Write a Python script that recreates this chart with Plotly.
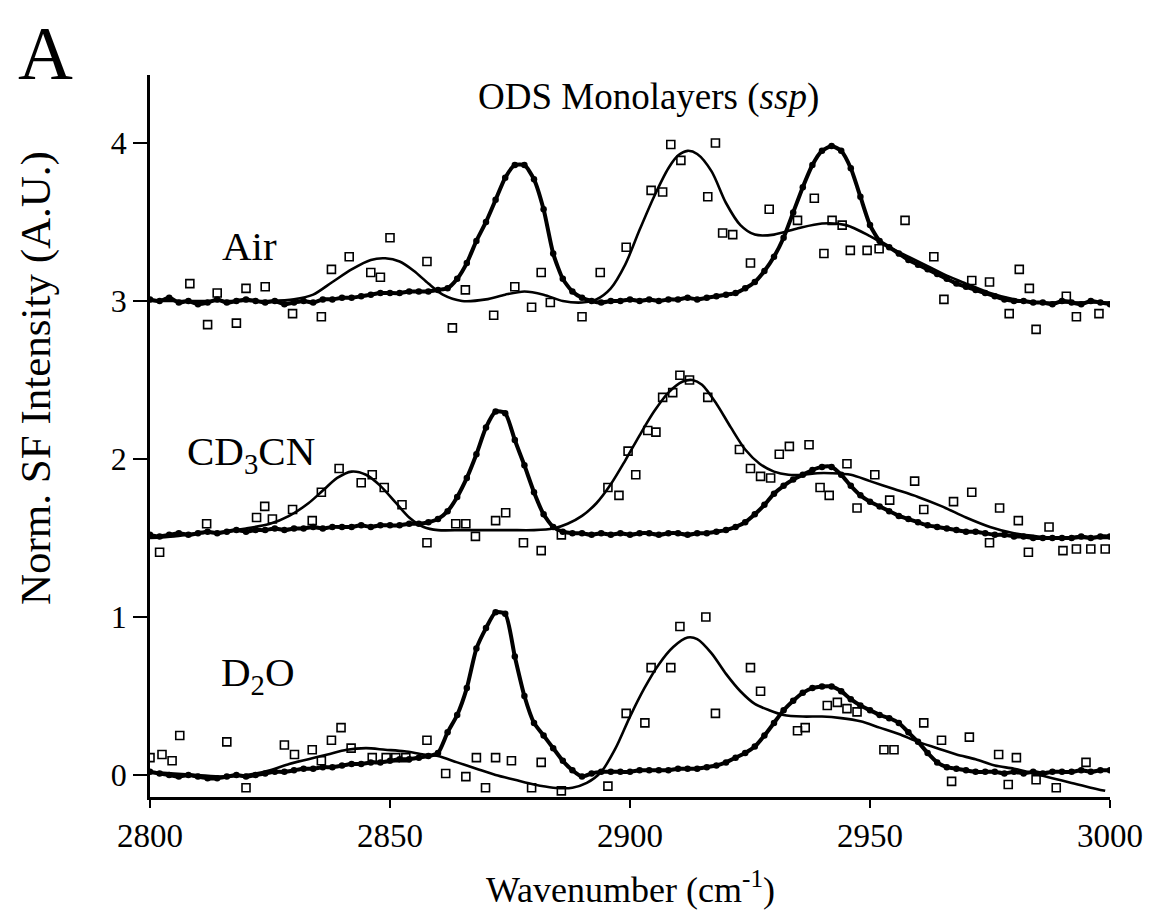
import plotly.graph_objects as go

# ---------------- data ----------------
# filled-circle spectra, sampled every 2 cm-1 from 2800 to 3000
circ_x = list(range(2800, 3001, 2))

air_circ = [3.01, 3.00, 3.02, 2.99, 3.00, 2.98, 2.99, 3.01, 2.99, 3.00,
            3.01, 3.00, 2.99, 3.00, 2.98, 2.99, 3.00, 2.99, 3.01, 3.01,
            3.02, 3.02, 3.03, 3.04, 3.05, 3.05, 3.05, 3.06, 3.06, 3.06,
            3.07, 3.08, 3.14, 3.24, 3.38, 3.50, 3.64, 3.78, 3.86, 3.86,
            3.77, 3.58, 3.30, 3.14, 3.06, 3.02, 3.00, 2.99, 3.00, 3.00,
            3.01, 3.00, 3.01, 3.00, 3.01, 3.01, 3.02, 3.01, 3.02, 3.03,
            3.04, 3.05, 3.08, 3.12, 3.19, 3.28, 3.40, 3.56, 3.72, 3.86,
            3.95, 3.98, 3.95, 3.84, 3.66, 3.48, 3.38, 3.34, 3.30, 3.26,
            3.23, 3.20, 3.17, 3.14, 3.11, 3.09, 3.07, 3.05, 3.03, 3.01,
            3.00, 3.00, 2.99, 2.99, 2.98, 3.00, 2.99, 2.98, 3.00, 2.99,
            2.98]

cd3cn_circ = [1.52, 1.51, 1.52, 1.53, 1.52, 1.53, 1.54, 1.53, 1.54, 1.55,
              1.54, 1.55, 1.55, 1.56, 1.55, 1.56, 1.56, 1.57, 1.56, 1.57,
              1.57, 1.57, 1.58, 1.57, 1.58, 1.58, 1.58, 1.59, 1.59, 1.60,
              1.62, 1.67, 1.76, 1.88, 2.03, 2.20, 2.30, 2.29, 2.12, 1.96,
              1.79, 1.65, 1.57, 1.54, 1.53, 1.53, 1.52, 1.53, 1.52, 1.53,
              1.52, 1.53, 1.53, 1.52, 1.53, 1.53, 1.52, 1.53, 1.53, 1.54,
              1.55, 1.57, 1.60, 1.65, 1.71, 1.78, 1.83, 1.87, 1.90, 1.93,
              1.95, 1.95, 1.90, 1.83, 1.77, 1.73, 1.70, 1.67, 1.64, 1.62,
              1.60, 1.58, 1.57, 1.56, 1.55, 1.54, 1.54, 1.53, 1.52, 1.52,
              1.51, 1.51, 1.50, 1.50, 1.50, 1.50, 1.50, 1.51, 1.50, 1.51,
              1.51]

d2o_circ = [0.02, 0.01, 0.00, -0.01, 0.00, -0.01, -0.02, -0.02, -0.01, 0.00,
            -0.01, 0.00, 0.01, 0.02, 0.02, 0.03, 0.04, 0.04, 0.05, 0.05,
            0.06, 0.07, 0.07, 0.08, 0.08, 0.09, 0.10, 0.10, 0.11, 0.12,
            0.14, 0.27, 0.38, 0.55, 0.80, 0.93, 1.03, 1.02, 0.75, 0.50,
            0.33, 0.25, 0.17, 0.09, 0.03, -0.01, 0.01, 0.02, 0.02, 0.02,
            0.02, 0.03, 0.03, 0.03, 0.03, 0.04, 0.04, 0.04, 0.05, 0.06,
            0.08, 0.11, 0.14, 0.18, 0.25, 0.33, 0.41, 0.47, 0.52, 0.55,
            0.56, 0.56, 0.53, 0.48, 0.44, 0.41, 0.38, 0.36, 0.33, 0.27,
            0.21, 0.14, 0.08, 0.05, 0.04, 0.03, 0.02, 0.02, 0.02, 0.01,
            0.02, 0.01, 0.02, 0.01, 0.02, 0.02, 0.02, 0.03, 0.02, 0.03,
            0.03]

# open-square spectra (x, y)
air_sq_x = [2808.3, 2812.0, 2814.0, 2818.0, 2820.0, 2824.0, 2829.7, 2835.7, 2837.8, 2841.5,
            2846.0, 2848.0, 2850.0, 2857.7, 2863.0, 2865.7, 2871.6, 2876.0, 2879.5, 2881.5,
            2883.4, 2890.0, 2893.8, 2899.2, 2904.4, 2906.8, 2908.5, 2910.6, 2916.2, 2917.8,
            2919.3, 2921.4, 2925.1, 2929.0, 2934.9, 2938.4, 2940.4, 2942.1, 2944.2, 2945.9,
            2949.4, 2951.9, 2957.3, 2963.3, 2965.4, 2971.2, 2974.9, 2979.0, 2981.1, 2983.2,
            2984.6, 2990.9, 2993.0, 2997.7]
air_sq_y = [3.11, 2.85, 3.05, 2.86, 3.08, 3.09, 2.92, 2.90, 3.20, 3.28,
            3.18, 3.15, 3.40, 3.25, 2.83, 3.07, 2.91, 3.09, 2.96, 3.18,
            2.99, 2.90, 3.18, 3.34, 3.70, 3.69, 3.99, 3.89, 3.66, 4.00,
            3.43, 3.42, 3.24, 3.58, 3.51, 3.65, 3.30, 3.51, 3.48, 3.32,
            3.32, 3.33, 3.51, 3.28, 3.01, 3.13, 3.12, 2.92, 3.20, 3.08,
            2.82, 3.03, 2.90, 2.92]

cd3cn_sq_x = [2802.0, 2811.8, 2822.2, 2823.9, 2825.5, 2829.7, 2833.8, 2835.7, 2839.4, 2844.0,
              2846.3, 2848.8, 2852.5, 2857.7, 2863.7, 2865.8, 2867.8, 2872.0, 2874.1, 2877.8,
              2881.5, 2885.7, 2895.4, 2897.7, 2899.6, 2901.2, 2903.7, 2905.4, 2906.8, 2908.9,
              2910.4, 2912.4, 2916.2, 2922.8, 2925.1, 2927.2, 2929.3, 2931.1, 2933.2, 2937.3,
              2939.6, 2941.5, 2945.2, 2947.3, 2951.0, 2954.1, 2959.3, 2961.2, 2967.4, 2971.2,
              2974.9, 2977.0, 2980.9, 2983.0, 2987.3, 2990.2, 2993.0, 2996.0, 2999.0]
cd3cn_sq_y = [1.41, 1.59, 1.63, 1.70, 1.62, 1.68, 1.61, 1.79, 1.94, 1.85,
              1.90, 1.82, 1.71, 1.47, 1.59, 1.59, 1.51, 1.61, 1.66, 1.47,
              1.42, 1.52, 1.82, 1.77, 2.05, 1.90, 2.18, 2.17, 2.39, 2.42,
              2.53, 2.50, 2.39, 2.06, 1.94, 1.89, 1.88, 2.03, 2.08, 2.09,
              1.82, 1.77, 1.97, 1.69, 1.90, 1.74, 1.86, 1.68, 1.73, 1.79,
              1.47, 1.69, 1.61, 1.41, 1.57, 1.42, 1.43, 1.43, 1.43]

d2o_sq_x = [2800.0, 2802.5, 2804.6, 2806.2, 2816.0, 2820.0, 2828.0, 2830.1, 2833.8, 2835.7,
            2837.8, 2839.8, 2841.9, 2846.3, 2849.2, 2851.2, 2853.3, 2857.7, 2861.6, 2865.8,
            2868.0, 2869.9, 2872.0, 2875.3, 2879.5, 2881.5, 2885.7, 2895.4, 2899.2, 2903.1,
            2904.4, 2908.5, 2910.4, 2915.8, 2917.8, 2925.1, 2927.2, 2934.9, 2936.5, 2941.1,
            2943.2, 2945.2, 2947.3, 2952.9, 2955.0, 2961.2, 2964.9, 2967.0, 2970.7, 2976.8,
            2978.8, 2980.5, 2984.6, 2988.8, 2995.0]
d2o_sq_y = [0.11, 0.13, 0.09, 0.25, 0.21, -0.08, 0.19, 0.13, 0.16, 0.09,
            0.22, 0.30, 0.17, 0.11, 0.11, 0.11, 0.11, 0.22, 0.01, -0.01,
            0.11, -0.08, 0.11, 0.09, -0.08, 0.08, -0.10, -0.07, 0.39, 0.33,
            0.68, 0.68, 0.94, 1.00, 0.39, 0.68, 0.53, 0.28, 0.30, 0.44,
            0.46, 0.42, 0.40, 0.16, 0.16, 0.33, 0.22, -0.04, 0.24, 0.13,
            -0.06, 0.11, -0.03, -0.08, 0.08]

# fitted curves through the open squares
air_fit_x = [2800, 2805, 2810, 2815, 2820, 2825, 2830, 2834, 2838, 2842,
             2846, 2849, 2852, 2855, 2858, 2861, 2865, 2870, 2874, 2878,
             2882, 2886, 2890, 2893, 2896, 2899, 2902, 2905, 2908, 2910,
             2912, 2914, 2917, 2920, 2923, 2926, 2930, 2935, 2940, 2945,
             2950, 2954, 2958, 2962, 2966, 2970, 2975, 2980, 2985, 2990,
             2995, 3000]
air_fit_y = [3.00, 3.00, 3.00, 3.00, 3.00, 3.00, 3.01, 3.04, 3.12, 3.20,
             3.26, 3.27, 3.25, 3.19, 3.11, 3.04, 3.00, 3.01, 3.04, 3.06,
             3.04, 3.00, 2.99, 3.01, 3.08, 3.23, 3.45, 3.66, 3.84, 3.92,
             3.95, 3.93, 3.82, 3.62, 3.48, 3.42, 3.42, 3.46, 3.49, 3.48,
             3.41, 3.34, 3.28, 3.22, 3.16, 3.11, 3.05, 3.01, 2.99, 2.99,
             2.99, 2.99]

cd3cn_fit_x = [2800, 2805, 2810, 2815, 2820, 2825, 2829, 2833, 2836, 2839,
               2842, 2845, 2848, 2851, 2854, 2857, 2860, 2865, 2870, 2875,
               2880, 2884, 2887, 2890, 2893, 2896, 2899, 2902, 2905, 2908,
               2911, 2913, 2915, 2918, 2921, 2924, 2927, 2930, 2933, 2936,
               2939, 2942, 2946, 2950, 2955, 2960, 2965, 2970, 2975, 2980,
               2985, 2990, 2995, 3000]
cd3cn_fit_y = [1.50, 1.51, 1.53, 1.54, 1.56, 1.59, 1.64, 1.72, 1.80, 1.88,
               1.92, 1.90, 1.83, 1.73, 1.63, 1.57, 1.55, 1.55, 1.55, 1.55,
               1.55, 1.56, 1.59, 1.64, 1.72, 1.84, 1.99, 2.15, 2.30, 2.42,
               2.49, 2.50, 2.47, 2.35, 2.20, 2.06, 1.97, 1.92, 1.90, 1.90,
               1.91, 1.91, 1.90, 1.86, 1.81, 1.76, 1.70, 1.63, 1.57, 1.53,
               1.51, 1.50, 1.50, 1.50]

d2o_fit_x = [2800, 2805, 2810, 2815, 2820, 2825, 2829, 2833, 2837, 2841,
             2845, 2849, 2853, 2857, 2860, 2864, 2868, 2872, 2876, 2880,
             2884, 2888, 2891, 2894, 2897, 2900, 2903, 2906, 2909, 2912,
             2914, 2917, 2920, 2923, 2926, 2929, 2932, 2936, 2940, 2944,
             2948, 2952, 2956, 2960, 2964, 2968, 2972, 2976, 2980, 2984,
             2988, 2992, 2996, 2999]
d2o_fit_y = [0.02, 0.01, 0.00, -0.01, 0.00, 0.03, 0.07, 0.10, 0.13, 0.16,
             0.17, 0.16, 0.15, 0.13, 0.12, 0.08, 0.04, 0.00, -0.03, -0.06,
             -0.08, -0.08, -0.05, 0.02, 0.17, 0.37, 0.55, 0.70, 0.81, 0.87,
             0.86, 0.77, 0.64, 0.53, 0.45, 0.41, 0.38, 0.37, 0.37, 0.36,
             0.34, 0.30, 0.26, 0.21, 0.17, 0.13, 0.10, 0.06, 0.04, 0.01,
             -0.02, -0.05, -0.08, -0.10]

x_ticks = [2800, 2850, 2900, 2950, 3000]
y_ticks = [0, 1, 2, 3, 4]

# ---------------- figure ----------------
FONT = "Liberation Serif"
fig = go.Figure()

for fx, fy in [(air_fit_x, air_fit_y), (cd3cn_fit_x, cd3cn_fit_y), (d2o_fit_x, d2o_fit_y)]:
    fig.add_trace(go.Scatter(x=fx, y=fy, mode="lines",
                             line=dict(color="black", width=2.6, shape="spline", smoothing=0.8),
                             hoverinfo="skip"))

for sx, sy in [(air_sq_x, air_sq_y), (cd3cn_sq_x, cd3cn_sq_y), (d2o_sq_x, d2o_sq_y)]:
    fig.add_trace(go.Scatter(x=sx, y=sy, mode="markers",
                             marker=dict(symbol="square-open", size=8, color="black",
                                         line=dict(width=1.6, color="black"))))

for cy in [air_circ, cd3cn_circ, d2o_circ]:
    fig.add_trace(go.Scatter(x=circ_x, y=cy, mode="lines+markers",
                             line=dict(color="black", width=4, shape="spline", smoothing=0.6),
                             marker=dict(symbol="circle", size=6.5, color="black")))

fig.update_layout(
    width=1155, height=918,
    margin=dict(l=150, r=41, t=75, b=121),
    plot_bgcolor="white", paper_bgcolor="white",
    showlegend=False,
    font=dict(family=FONT, color="black"),
)
fig.update_xaxes(range=[2800, 3000], tickvals=x_ticks, ticktext=[str(v) for v in x_ticks],
                 ticks="outside", ticklen=8, tickwidth=2, tickcolor="black",
                 showline=True, linewidth=2.5, linecolor="black",
                 showgrid=False, zeroline=False,
                 tickfont=dict(family=FONT, size=33, color="black"))
fig.update_yaxes(range=[-0.139, 4.43], tickvals=y_ticks, ticktext=[str(v) for v in y_ticks],
                 ticks="outside", ticklen=14, tickwidth=2, tickcolor="black",
                 showline=True, linewidth=2.5, linecolor="black",
                 showgrid=False, zeroline=False,
                 tickfont=dict(family=FONT, size=32, color="black"))

def pann(text, x, y, size, angle=0):
    return dict(text=text, xref="paper", yref="paper", x=x, y=y, xanchor="center",
                yanchor="middle", textangle=angle, showarrow=False,
                font=dict(family=FONT, size=size, color="black"))

def dann(text, x, y, size):
    return dict(text=text, xref="x", yref="y", x=x, y=y, xanchor="center",
                yanchor="middle", showarrow=False,
                font=dict(family=FONT, size=size, color="black"))

ann = [
    pann("A", -0.109, 1.030, 76),
    pann("ODS Monolayers (<i>ssp</i>)", 0.519, 0.9695, 37),
    pann("Norm. SF Intensity (A.U.)", -0.119, 0.580, 43, -90),
    pann("Wavenumber (cm<sup>-1</sup>)", 0.50, -0.1247, 36),
    dann("Air", 2820.7, 3.35, 41),
    dann("CD<sub>3</sub>CN", 2821, 2.03, 41),
    dann("D<sub>2</sub>O", 2822.4, 0.63, 41),
]
fig.update_layout(annotations=ann)

fig.write_html("out.html")
